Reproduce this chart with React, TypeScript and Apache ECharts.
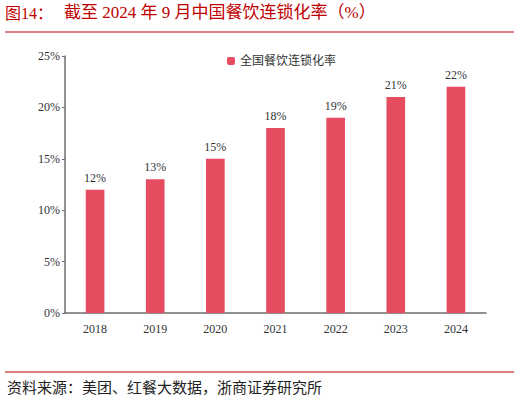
import { useEffect, useRef } from 'react';
import * as echarts from 'echarts';

const years = ['2018', '2019', '2020', '2021', '2022', '2023', '2024'];
const chainRate = [12, 13, 15, 18, 19, 21, 22];
const seriesName = '全国餐饮连锁化率';
const titlePrefix = '图14：';
const titleText = '截至 2024 年 9 月中国餐饮连锁化率（%）';
const sourceText = '资料来源：美团、红餐大数据，浙商证券研究所';

const FONT = '"Liberation Serif", "Times New Roman", "Noto Sans CJK SC", serif';

export default function App() {
    const chartRef = useRef<HTMLDivElement>(null);

    useEffect(() => {
        if (!chartRef.current) return;
        document.body.style.margin = '0';
        const chart = echarts.init(chartRef.current, null, { renderer: 'svg' });

        const option: echarts.EChartsOption = {
            animation: false,
            backgroundColor: '#ffffff',
            textStyle: { fontFamily: FONT },
            graphic: [
                {
                    type: 'text',
                    left: 5,
                    top: 5,
                    style: {
                        text: titlePrefix,
                        fill: '#c00000',
                        font: `16px ${FONT}`
                    }
                },
                {
                    type: 'text',
                    left: 64,
                    top: 4,
                    style: {
                        text: titleText,
                        fill: '#c00000',
                        font: `17px ${FONT}`
                    }
                },
                {
                    type: 'line',
                    shape: { x1: 5, y1: 32, x2: 514, y2: 32 },
                    style: { stroke: '#c00000', lineWidth: 1.2 }
                },
                {
                    type: 'line',
                    shape: { x1: 5, y1: 372, x2: 514, y2: 372 },
                    style: { stroke: '#c00000', lineWidth: 1.2 }
                },
                {
                    type: 'text',
                    left: 7,
                    top: 380,
                    style: {
                        text: sourceText,
                        fill: '#222222',
                        font: `15px ${FONT}`
                    }
                }
            ],
            legend: {
                data: [seriesName],
                left: 222,
                top: 50,
                itemWidth: 8,
                itemHeight: 8,
                itemGap: 6,
                textStyle: { fontSize: 12, color: '#333333', fontFamily: FONT }
            },
            grid: {
                left: 65,
                right: 34,
                top: 56,
                bottom: 90,
                containLabel: false
            },
            xAxis: {
                type: 'category',
                data: years,
                axisLine: { lineStyle: { color: '#6e6e6e', width: 1.5 } },
                axisTick: { show: false },
                axisLabel: { color: '#333333', fontSize: 12, margin: 10, fontFamily: FONT }
            },
            yAxis: {
                type: 'value',
                min: 0,
                max: 25,
                interval: 5,
                axisLine: { show: true, lineStyle: { color: '#6e6e6e', width: 1.5 } },
                axisTick: { show: true, length: 3, lineStyle: { color: '#6e6e6e' } },
                splitLine: { show: false },
                axisLabel: {
                    color: '#333333',
                    fontSize: 12,
                    margin: 5,
                    fontFamily: FONT,
                    formatter: '{value}%'
                }
            },
            series: [
                {
                    name: seriesName,
                    type: 'bar',
                    data: chainRate,
                    barWidth: '31%',
                    itemStyle: { color: '#e64c60' },
                    label: {
                        show: true,
                        position: 'top',
                        distance: 6,
                        color: '#333333',
                        fontSize: 12,
                        fontFamily: FONT,
                        formatter: '{c}%'
                    }
                }
            ]
        };

        chart.setOption(option);
        return () => chart.dispose();
    }, []);

    return <div ref={chartRef} style={{ position: 'absolute', left: 0, top: 0, width: 520, height: 403 }} />;
}
